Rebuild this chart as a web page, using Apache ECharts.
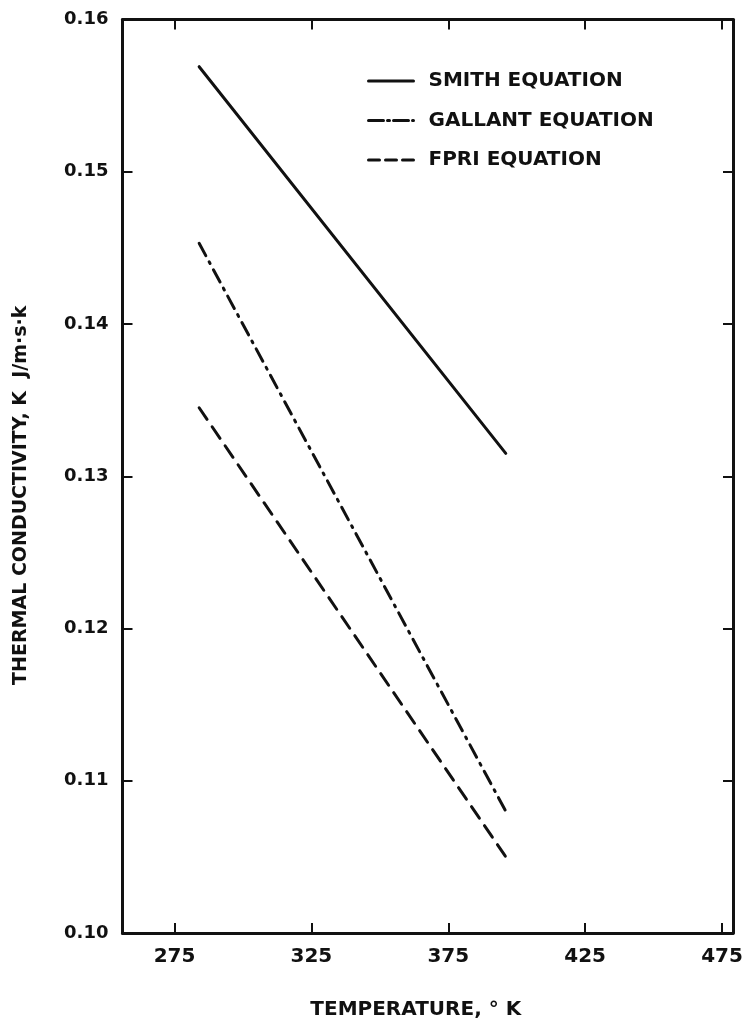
<!DOCTYPE html>
<html>
<head>
<meta charset="utf-8">
<script src="https://cdn.jsdelivr.net/npm/echarts@6/dist/echarts.min.js"></script>
<style>
  html, body { margin: 0; padding: 0; background: #fff; }
  #chart { width: 752px; height: 1026px; }
</style>
</head>
<body>
<div id="chart"></div>
<script>
// Temperature range covered by each correlation (K)
const temps = [284, 396];
// Thermal conductivity, J/m·s·K, at the two ends of each line
const smith = [0.1569, 0.1315];
const gallant = [0.1453, 0.1080];
const fpri = [0.1345, 0.1050];
// Axis ticks
const xTicks = [275, 325, 375, 425, 475];
const yTicks = [0.10, 0.11, 0.12, 0.13, 0.14, 0.15, 0.16];
const seriesNames = ['SMITH EQUATION', 'GALLANT EQUATION', 'FPRI EQUATION'];

const FONT = "'DejaVu Sans', sans-serif";
const INK = '#111';

const pairs = (ys) => temps.map((t, i) => [t, ys[i]]);

const frameLine = { show: true, onZero: false, lineStyle: { color: INK, width: 3 } };
const tickIn = { show: true, inside: true, length: 10, lineStyle: { color: INK, width: 2 } };

const chart = echarts.init(document.getElementById('chart'), null, { renderer: 'canvas' });
chart.setOption({
  backgroundColor: '#fff',
  animation: false,
  grid: { left: 122.5, right: 19, top: 19.5, bottom: 93 },
  legend: {
    orient: 'vertical',
    left: 367,
    top: 71,
    padding: 0,
    itemWidth: 45,
    itemHeight: 14,
    itemGap: 19.5,
    itemStyle: { opacity: 0 },
    lineStyle: { width: 3, color: INK },
    data: [
      { name: seriesNames[0] },
      { name: seriesNames[1], lineStyle: { type: [15, 4, 2, 4] } },
      { name: seriesNames[2], lineStyle: { type: [11, 6] } }
    ],
    textStyle: { fontFamily: FONT, fontSize: 20, fontWeight: 'bold', color: INK, padding: [0, 0, 0, 10] }
  },
  xAxis: [
    {
      type: 'value', position: 'bottom', min: 256, max: 479,
      axisLine: frameLine,
      axisTick: Object.assign({ customValues: xTicks }, tickIn),
      splitLine: { show: false },
      axisLabel: {
        customValues: xTicks, margin: 14,
        fontFamily: FONT, fontSize: 20, fontWeight: 'bold', color: INK
      },
      name: 'TEMPERATURE, ° K',
      nameLocation: 'middle',
      nameGap: 67,
      nameTextStyle: {
        fontFamily: FONT, fontSize: 20, fontWeight: 'bold', color: INK,
        padding: [0, 24, 0, 0]
      }
    },
    {
      type: 'value', position: 'top', min: 256, max: 479,
      axisLine: frameLine,
      axisTick: Object.assign({ customValues: xTicks }, tickIn),
      axisLabel: { show: false },
      splitLine: { show: false }
    }
  ],
  yAxis: [
    {
      type: 'value', position: 'left', min: 0.10, max: 0.16,
      axisLine: frameLine,
      axisTick: Object.assign({ customValues: yTicks }, tickIn),
      splitLine: { show: false },
      axisLabel: {
        customValues: yTicks, margin: 14,
        formatter: (v) => v.toFixed(2),
        fontFamily: FONT, fontSize: 18, fontWeight: 'bold', color: INK
      },
      name: 'THERMAL CONDUCTIVITY, K  J/m·s·k',
      nameLocation: 'middle',
      nameGap: 92,
      nameRotate: 90,
      nameTextStyle: {
        fontFamily: FONT, fontSize: 19, fontWeight: 'bold', color: INK,
        padding: [0, 38, 0, 0]
      }
    },
    {
      type: 'value', position: 'right', min: 0.10, max: 0.16,
      axisLine: frameLine,
      axisTick: Object.assign({ customValues: yTicks }, tickIn),
      axisLabel: { show: false },
      splitLine: { show: false }
    }
  ],
  series: [
    {
      name: seriesNames[0], type: 'line', data: pairs(smith),
      symbol: 'none', color: INK,
      lineStyle: { color: INK, width: 3, type: 'solid', cap: 'round' }
    },
    {
      name: seriesNames[1], type: 'line', data: pairs(gallant),
      symbol: 'none', color: INK,
      lineStyle: { color: INK, width: 3, type: [14, 7, 2, 7], cap: 'round' }
    },
    {
      name: seriesNames[2], type: 'line', data: pairs(fpri),
      symbol: 'none', color: INK,
      lineStyle: { color: INK, width: 3, type: [14, 9], cap: 'round' }
    }
  ]
});
</script>
</body>
</html>
